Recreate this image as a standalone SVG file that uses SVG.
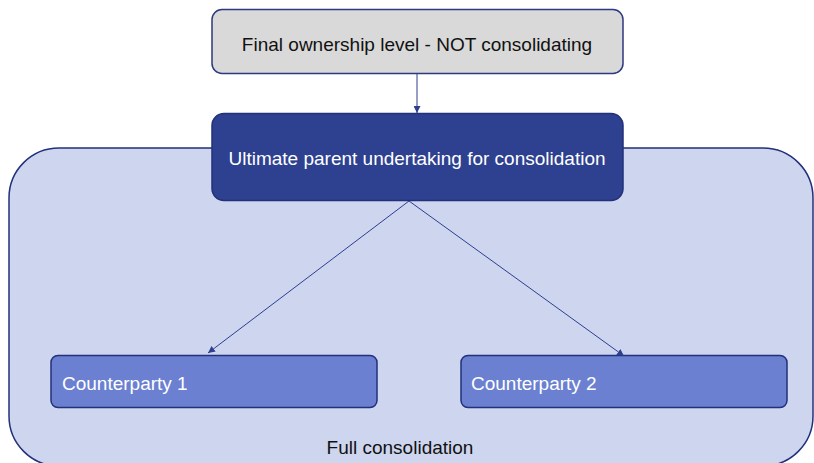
<svg xmlns="http://www.w3.org/2000/svg" width="814" height="463" viewBox="0 0 814 463">
<defs>
<style>
text{font-family:"Liberation Sans",Arial,sans-serif;font-size:19px}
.edge{stroke:#2e3f8f;stroke-width:1;fill:none;marker-end:url(#ah)}
</style>
<marker id="ah" viewBox="0 0 10 10" refX="10" refY="5" markerWidth="7" markerHeight="7" orient="auto" markerUnits="userSpaceOnUse">
<path d="M0,0 L10,5 L0,10 z" fill="#2e3f8f"/>
</marker>
</defs>
<rect width="814" height="463" fill="#ffffff"/>
<g id="container">
<rect x="9" y="148" width="804" height="318" rx="50" fill="#cdd5ef" stroke="#23307a" stroke-width="1.5"/>
<text x="400" y="454" text-anchor="middle" fill="#111">Full consolidation</text>
</g>
<g id="final-owner">
<rect x="212" y="9.5" width="411" height="64" rx="10" fill="#d9d9d9" stroke="#2e3a80" stroke-width="1.5"/>
<text x="417" y="51" text-anchor="middle" fill="#111">Final ownership level - NOT consolidating</text>
</g>
<g id="parent">
<rect x="212" y="113.5" width="411" height="87" rx="12" fill="#2e4190" stroke="#23307a" stroke-width="1.5"/>
<text x="417" y="165" text-anchor="middle" fill="#ffffff">Ultimate parent undertaking for consolidation</text>
</g>
<g id="counterparty1">
<rect x="51" y="355.5" width="326" height="52" rx="7" fill="#6b80d0" stroke="#23307a" stroke-width="1.5"/>
<text x="62" y="390" fill="#ffffff">Counterparty 1</text>
</g>
<g id="counterparty2">
<rect x="461" y="355.5" width="326" height="52" rx="7" fill="#6b80d0" stroke="#23307a" stroke-width="1.5"/>
<text x="471" y="390" fill="#ffffff">Counterparty 2</text>
</g>
<g id="connectors">
<line class="edge" x1="417" y1="74" x2="417" y2="113"/>
<line class="edge" x1="409" y1="201" x2="208" y2="353"/>
<line class="edge" x1="409" y1="201" x2="624" y2="356"/>
</g>
</svg>
